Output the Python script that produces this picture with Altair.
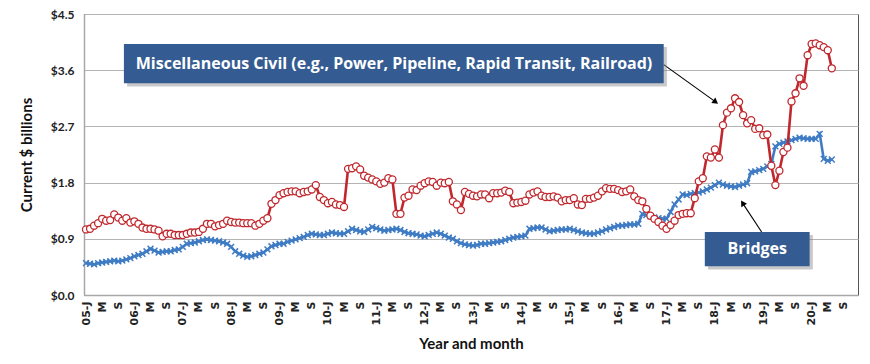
import altair as alt
import pandas as pd

tick_labels = [
    "05-J", "M", "S", "06-J", "M", "S", "07-J", "M", "S", "08-J", "M", "S",
    "09-J", "M", "S", "10-J", "M", "S", "11-J", "M", "S", "12-J", "M", "S",
    "13-J", "M", "S", "14-J", "M", "S", "15-J", "M", "S", "16-J", "M", "S",
    "17-J", "M", "S", "18-J", "M", "S", "19-J", "M", "S", "20-J", "M", "S",
]

# Monthly values, Jan 2005 .. Jun 2020 ($ billions)
misc_civil = [
    1.05, 1.06, 1.11, 1.15, 1.22, 1.19, 1.20, 1.29, 1.24, 1.19, 1.23, 1.16,
    1.18, 1.14, 1.08, 1.06, 1.06, 1.05, 1.03, 0.94, 0.98, 0.98, 0.96, 0.96,
    0.96, 0.98, 1.00, 1.00, 1.01, 1.06, 1.14, 1.14, 1.10, 1.12, 1.14, 1.19,
    1.17, 1.16, 1.16, 1.15, 1.15, 1.15, 1.11, 1.14, 1.19, 1.23, 1.46, 1.52,
    1.60, 1.63, 1.65, 1.66, 1.66, 1.63, 1.65, 1.66, 1.69, 1.76, 1.57, 1.52,
    1.47, 1.49, 1.45, 1.44, 1.41, 2.02, 2.03, 2.06, 2.01, 1.91, 1.88, 1.85,
    1.82, 1.78, 1.80, 1.87, 1.85, 1.30, 1.30, 1.56, 1.59, 1.69, 1.68, 1.75,
    1.79, 1.82, 1.81, 1.75, 1.80, 1.79, 1.81, 1.50, 1.45, 1.36, 1.65, 1.62,
    1.59, 1.58, 1.61, 1.61, 1.55, 1.63, 1.63, 1.64, 1.67, 1.65, 1.47, 1.48,
    1.49, 1.51, 1.61, 1.64, 1.66, 1.59, 1.57, 1.57, 1.58, 1.56, 1.50, 1.52,
    1.52, 1.55, 1.45, 1.44, 1.54, 1.54, 1.56, 1.59, 1.66, 1.71, 1.70, 1.70,
    1.68, 1.65, 1.66, 1.69, 1.58, 1.52, 1.50, 1.38, 1.27, 1.22, 1.17, 1.11,
    1.06, 1.12, 1.19, 1.28, 1.30, 1.31, 1.31, 1.55, 1.82, 1.87, 2.22, 2.20,
    2.33, 2.20, 2.72, 2.92, 2.99, 3.15, 3.09, 2.88, 2.75, 2.80, 2.66, 2.67,
    2.56, 2.57, 2.07, 1.76, 1.99, 2.29, 2.36, 3.10, 3.23, 3.47, 3.35, 3.84,
    4.02, 4.03, 4.00, 3.97, 3.92, 3.63,
]

bridges = [
    0.51, 0.50, 0.49, 0.51, 0.52, 0.53, 0.54, 0.55, 0.54, 0.55, 0.57, 0.59,
    0.62, 0.64, 0.66, 0.70, 0.74, 0.71, 0.68, 0.69, 0.70, 0.70, 0.72, 0.73,
    0.77, 0.82, 0.83, 0.84, 0.86, 0.88, 0.89, 0.88, 0.87, 0.86, 0.84, 0.82,
    0.77, 0.70, 0.66, 0.63, 0.61, 0.62, 0.64, 0.66, 0.68, 0.73, 0.78, 0.80,
    0.82, 0.82, 0.85, 0.87, 0.89, 0.91, 0.93, 0.96, 0.98, 0.97, 0.96, 0.96,
    0.98, 1.00, 0.99, 0.98, 0.98, 1.02, 1.06, 1.04, 1.02, 1.01, 1.05, 1.09,
    1.07, 1.05, 1.03, 1.04, 1.05, 1.06, 1.04, 1.01, 0.99, 0.98, 0.97, 0.95,
    0.94, 0.96, 0.98, 1.00, 0.98, 0.95, 0.92, 0.90, 0.86, 0.83, 0.81, 0.80,
    0.79, 0.80, 0.82, 0.82, 0.83, 0.84, 0.85, 0.86, 0.88, 0.90, 0.92, 0.93,
    0.94, 0.95, 1.06, 1.07, 1.08, 1.08, 1.05, 1.02, 1.03, 1.04, 1.05, 1.05,
    1.06, 1.04, 1.02, 1.00, 0.99, 0.98, 0.98, 1.00, 1.02, 1.05, 1.07, 1.09,
    1.11, 1.11, 1.12, 1.13, 1.13, 1.14, 1.30, 1.28, 1.26, 1.24, 1.23, 1.22,
    1.22, 1.33, 1.45, 1.53, 1.61, 1.60, 1.62, 1.63, 1.64, 1.66, 1.69, 1.72,
    1.76, 1.80, 1.77, 1.75, 1.74, 1.73, 1.75, 1.77, 1.79, 1.97, 1.98, 2.00,
    2.02, 2.06, 2.10, 2.38, 2.42, 2.44, 2.46, 2.48, 2.50, 2.52, 2.51, 2.50,
    2.50, 2.50, 2.58, 2.18, 2.15, 2.17,
]

y_ticks = [0.0, 0.9, 1.8, 2.7, 3.6, 4.5]
n_months_axis = 192  # Jan 2005 .. Dec 2020 categories

FONT = "Lato"
TICK_FONT = "DejaVu Sans"
BOX_FONT = "Open Sans"
RED = "#c0282e"
BLUE = "#3f7cc4"
BOX = "#345c92"

df_red = pd.DataFrame({"i": list(range(len(misc_civil))), "value": misc_civil})
df_blue = pd.DataFrame({"i": list(range(len(bridges))), "value": bridges})

label_expr = "[" + ",".join("'%s'" % t for t in tick_labels) + "][round(datum.value / 4)]"

x_scale = alt.Scale(domain=[-0.5, n_months_axis - 0.5], nice=False, zero=False)
y_scale = alt.Scale(domain=[0, 4.5], nice=False)

x_axis = alt.Axis(
    values=list(range(0, 4 * len(tick_labels), 4)),
    labelExpr=label_expr,
    labelAngle=-90,
    labelAlign="right",
    labelBaseline="middle",
    labelOverlap=False,
    labelFlush=False,
    labelBound=False,
    labelFont=TICK_FONT,
    labelFontWeight="bold",
    labelFontSize=11,
    labelColor="#222",
    labelPadding=6,
    ticks=False,
    grid=False,
    domainColor="#a8a8a8",
    domainWidth=1.5,
    title="Year and month",
    titleFont=FONT,
    titleFontSize=15,
    titleFontWeight="bold",
    titleColor="#111",
    titlePadding=12,
)
y_axis = alt.Axis(
    values=y_ticks,
    labelExpr="'$' + format(datum.value, '.1f')",
    labelFont=FONT,
    labelFontWeight="bold",
    labelFontSize=12,
    labelColor="#222",
    labelPadding=10,
    labelFlush=False,
    labelOverlap=False,
    ticks=False,
    grid=True,
    gridColor="#b4b4b4",
    gridWidth=1.2,
    domainColor="#a8a8a8",
    domainWidth=1.5,
    title="Current $ billions",
    titleFont=FONT,
    titleFontSize=15,
    titleFontWeight="bold",
    titleColor="#111",
    titlePadding=16,
)


def xq(field):
    return alt.X(field, type="quantitative", scale=x_scale, axis=x_axis)


def yq(field):
    return alt.Y(field, type="quantitative", scale=y_scale, axis=y_axis)


blue_line = alt.Chart(df_blue).mark_line(color=BLUE, strokeWidth=2.6).encode(x=xq("i"), y=yq("value"))
blue_pts = alt.Chart(df_blue).mark_point(
    shape="M-1,-1L1,1M1,-1L-1,1", size=34, color=BLUE, strokeWidth=1.5, filled=False, opacity=1
).encode(x=xq("i"), y=yq("value"))
red_line = alt.Chart(df_red).mark_line(color=RED, strokeWidth=2.6).encode(x=xq("i"), y=yq("value"))
red_pts = alt.Chart(df_red).mark_point(
    shape="circle", size=50, color=RED, fill="white", filled=True, stroke=RED, strokeWidth=1.3, opacity=1, fillOpacity=1
).encode(x=xq("i"), y=yq("value"))

# Annotation boxes (in data units)
boxes = pd.DataFrame({
    "x1": [9.4, 153.5], "x2": [143.3, 179.5],
    "y1": [4.02, 1.01], "y2": [3.39, 0.46],
    "sx1": [10.2, 154.3], "sx2": [144.1, 180.3],
    "sy1": [3.97, 0.96], "sy2": [3.34, 0.41],
    "tx": [76.4, 166.5], "ty": [3.70, 0.735],
    "label": ["Miscellaneous Civil (e.g., Power, Pipeline, Rapid Transit, Railroad)", "Bridges"],
})
shadow = alt.Chart(boxes).mark_rect(color="#888888", opacity=0.45).encode(
    x=xq("sx1"), x2="sx2", y=yq("sy1"), y2="sy2"
)
box = alt.Chart(boxes).mark_rect(color=BOX).encode(x=xq("x1"), x2="x2", y=yq("y1"), y2="y2")
box_text = alt.Chart(boxes).mark_text(
    color="white", font=BOX_FONT, fontWeight="bold", fontSize=16, align="center", baseline="middle"
).encode(x=xq("tx"), y=yq("ty"), text="label:N")

arrows = pd.DataFrame({
    "xa": [143.3, 167.6], "ya": [3.69, 1.01],
    "xb": [156.0, 163.0], "yb": [3.10, 1.46],
})
arrow_lines = alt.Chart(arrows).mark_rule(color="black", strokeWidth=1.1).encode(
    x=xq("xa"), y=yq("ya"), x2="xb", y2="yb"
)
head1 = alt.Chart(arrows.iloc[[0]]).mark_point(
    shape="triangle", size=45, color="black", filled=True, angle=126.5, opacity=1
).encode(x=xq("xb"), y=yq("yb"))
head2 = alt.Chart(arrows.iloc[[1]]).mark_point(
    shape="triangle", size=45, color="black", filled=True, angle=328, opacity=1
).encode(x=xq("xb"), y=yq("yb"))

chart = alt.layer(
    blue_line, blue_pts, red_line, red_pts,
    arrow_lines, head1, head2, shadow, box, box_text,
).properties(
    width=774,
    height=281,
    padding={"left": 76, "top": 6, "right": 4, "bottom": 60},
    autosize=alt.AutoSizeParams(type="none"),
    background="white",
).configure_view(
    stroke="#555555", strokeWidth=1
).configure_axis(
    labelOverlap=False
)

chart.save("out.html", embed_options={"renderer": "svg", "actions": False})
